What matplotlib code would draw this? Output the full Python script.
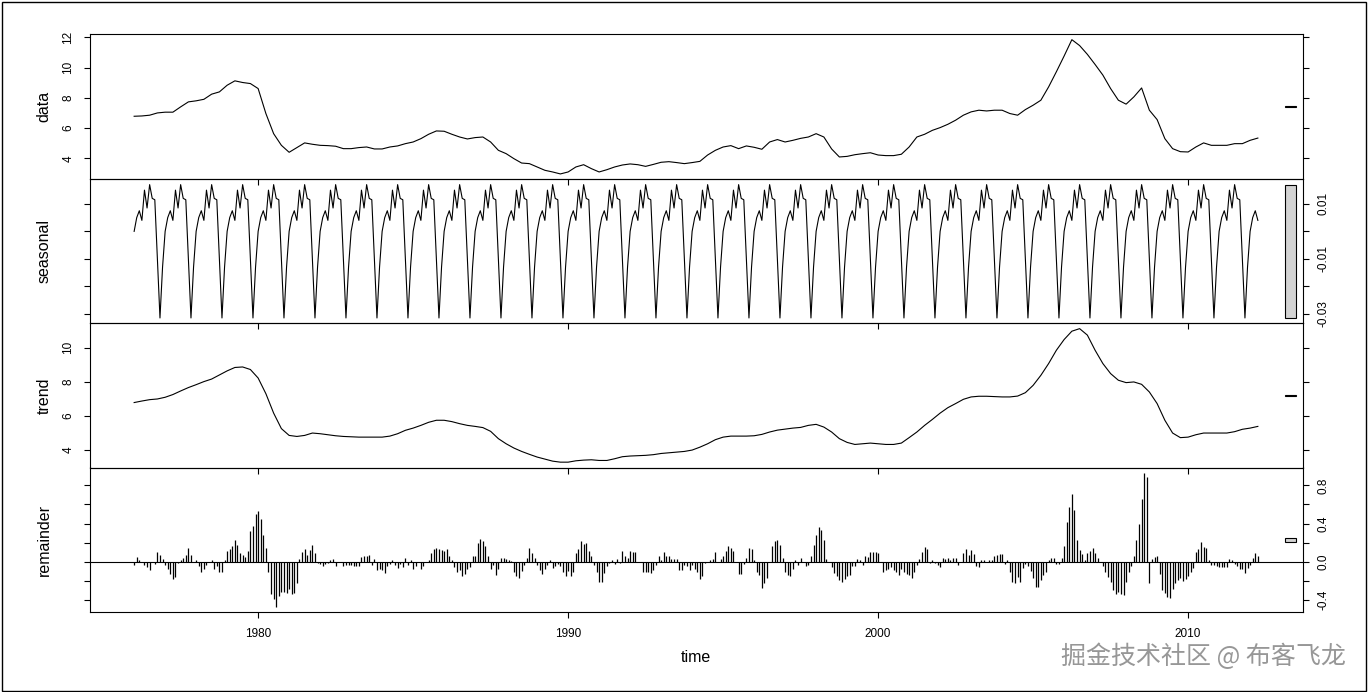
import numpy as np
import matplotlib.pyplot as plt
from matplotlib.patches import Rectangle

plt.rcParams['font.family'] = ['Liberation Sans', 'DejaVu Sans']

# ---- data ----
start_year = 1976

# observed series, read every quarter (1976.00, 1976.25, ...)
data_q = [6.78, 6.80, 6.85, 7.00, 7.05, 7.05, 7.40, 7.73, 7.80, 7.90,
          8.24, 8.39, 8.83, 9.12, 9.01, 8.94, 8.61, 6.96, 5.63, 4.86,
          4.40, 4.71, 5.02, 4.93, 4.86, 4.84, 4.80, 4.64, 4.64, 4.71,
          4.75, 4.62, 4.62, 4.75, 4.82, 4.97, 5.08, 5.30, 5.59, 5.81,
          5.79, 5.59, 5.41, 5.28, 5.37, 5.41, 5.08, 4.53, 4.31, 3.98,
          3.69, 3.65, 3.43, 3.21, 3.10, 2.97, 3.10, 3.43, 3.58, 3.32,
          3.10, 3.25, 3.43, 3.56, 3.63, 3.58, 3.47, 3.60, 3.74, 3.78,
          3.72, 3.65, 3.72, 3.80, 4.22, 4.53, 4.75, 4.84, 4.64, 4.82,
          4.73, 4.60, 5.08, 5.24, 5.08, 5.19, 5.32, 5.41, 5.63, 5.41,
          4.62, 4.09, 4.13, 4.24, 4.31, 4.37, 4.22, 4.18, 4.18, 4.27,
          4.75, 5.41, 5.59, 5.85, 6.03, 6.25, 6.52, 6.85, 7.07, 7.18,
          7.13, 7.18, 7.18, 6.96, 6.85, 7.22, 7.51, 7.84, 8.72, 9.72,
          10.76, 11.84, 11.45, 10.87, 10.20, 9.50, 8.61, 7.84, 7.58, 8.06,
          8.65, 7.18, 6.56, 5.30, 4.64, 4.44, 4.42, 4.75, 5.02, 4.86,
          4.86, 4.86, 4.97, 4.97, 5.19, 5.34]

# trend component, read every quarter
trend_q = [6.78, 6.87, 6.95, 6.99, 7.09, 7.25, 7.46, 7.66, 7.83, 8.01,
           8.16, 8.40, 8.64, 8.84, 8.87, 8.72, 8.22, 7.30, 6.16, 5.25,
           4.85, 4.79, 4.85, 4.99, 4.95, 4.89, 4.83, 4.79, 4.77, 4.75,
           4.75, 4.75, 4.75, 4.81, 4.95, 5.15, 5.28, 5.44, 5.62, 5.74,
           5.74, 5.66, 5.54, 5.44, 5.38, 5.31, 5.09, 4.66, 4.36, 4.11,
           3.91, 3.74, 3.58, 3.46, 3.34, 3.28, 3.28, 3.36, 3.40, 3.42,
           3.38, 3.38, 3.48, 3.60, 3.64, 3.66, 3.68, 3.72, 3.79, 3.83,
           3.87, 3.91, 3.99, 4.16, 4.36, 4.60, 4.75, 4.81, 4.81, 4.81,
           4.83, 4.91, 5.05, 5.16, 5.22, 5.28, 5.32, 5.44, 5.50, 5.34,
           5.05, 4.66, 4.44, 4.32, 4.36, 4.40, 4.36, 4.32, 4.32, 4.40,
           4.72, 5.05, 5.44, 5.79, 6.16, 6.48, 6.72, 6.97, 7.11, 7.15,
           7.15, 7.13, 7.11, 7.11, 7.16, 7.36, 7.79, 8.38, 9.07, 9.85,
           10.48, 10.97, 11.12, 10.74, 9.85, 9.07, 8.48, 8.09, 7.95, 7.99,
           7.85, 7.40, 6.72, 5.74, 4.99, 4.72, 4.75, 4.89, 4.99, 4.99,
           4.99, 4.99, 5.07, 5.21, 5.28, 5.38]

# one cycle of the (periodic) seasonal component, from the first month on
seasonal_cycle = [0.0, 0.005, 0.0075, 0.004, 0.015, 0.0085,
                  0.017, 0.012, 0.0115, -0.010, -0.0315, -0.013]

# remainder, monthly, one row per year
remainder = np.array([
    -0.03, 0.05, 0.02, 0.0, -0.035, -0.055, -0.087, 0.0, -0.025, 0.10, 0.075, 0.03,
    -0.03, -0.07, -0.125, -0.18, -0.16, -0.01, 0.017, 0.045, 0.075, 0.15, 0.075, 0.0,
    0.025, -0.045, -0.11, -0.07, -0.03, 0.0, 0.025, -0.07, -0.045, -0.11, -0.11, 0.015,
    0.11, 0.14, 0.17, 0.23, 0.18, 0.09, 0.075, 0.05, 0.115, 0.32, 0.37, 0.50,
    0.535, 0.45, 0.28, 0.145, -0.11, -0.34, -0.39, -0.47, -0.36, -0.31, -0.31, -0.32,
    -0.28, -0.34, -0.32, -0.225, 0.035, 0.10, 0.14, 0.075, 0.12, 0.18, 0.095, -0.01,
    -0.02, -0.045, -0.02, -0.01, 0.025, 0.035, -0.045, 0.0, 0.0, -0.045, -0.035, -0.035,
    -0.035, -0.045, -0.045, -0.045, 0.05, 0.065, 0.065, 0.075, -0.03, 0.035, -0.08, -0.07,
    -0.087, -0.12, -0.045, -0.025, 0.015, -0.03, -0.065, -0.02, -0.055, 0.04, -0.03, 0.025,
    -0.07, -0.04, 0.0, -0.07, -0.045, 0.0, 0.025, 0.09, 0.14, 0.15, 0.13, 0.12,
    0.11, 0.14, 0.065, 0.015, -0.055, -0.11, -0.08, -0.15, -0.125, -0.07, -0.055, 0.065,
    0.065, 0.20, 0.24, 0.215, 0.17, 0.065, -0.07, -0.03, -0.14, -0.07, 0.04, 0.04,
    0.03, 0.017, 0.007, -0.105, -0.15, -0.167, -0.09, -0.03, 0.04, 0.145, 0.095, 0.04,
    -0.03, -0.08, -0.125, -0.07, -0.03, 0.017, -0.06, -0.04, -0.017, -0.04, -0.10, -0.15,
    -0.09, -0.15, -0.10, 0.09, 0.13, 0.22, 0.19, 0.20, 0.11, 0.065, -0.03, -0.11,
    -0.21, -0.21, -0.115, -0.045, -0.01, 0.025, -0.025, 0.03, -0.01, 0.11, 0.065, 0.04,
    0.11, 0.10, 0.10, 0.0, 0.0, -0.10, -0.11, -0.11, -0.12, -0.08, -0.03, 0.065,
    0.025, 0.10, 0.065, 0.065, 0.03, 0.03, 0.03, -0.08, -0.08, -0.03, -0.045, -0.08,
    -0.03, -0.07, -0.105, -0.175, -0.15, -0.01, 0.0, 0.025, 0.035, 0.10, 0.0, 0.035,
    0.06, 0.11, 0.17, 0.145, 0.11, 0.0, -0.125, -0.125, -0.025, 0.04, 0.145, 0.14,
    0.025, -0.11, -0.14, -0.27, -0.22, -0.167, 0.0, 0.17, 0.22, 0.23, 0.18, 0.04,
    -0.11, -0.14, -0.15, -0.07, 0.015, -0.03, 0.04, 0.0, -0.045, -0.03, 0.065, 0.18,
    0.285, 0.36, 0.33, 0.23, 0.035, 0.0, -0.055, -0.115, -0.15, -0.185, -0.21, -0.18,
    -0.15, -0.14, -0.045, -0.045, 0.035, 0.015, -0.03, 0.065, 0.05, 0.10, 0.10, 0.10,
    0.09, 0.0, -0.10, -0.08, -0.07, -0.055, -0.08, -0.11, -0.14, -0.07, -0.11, -0.125,
    -0.14, -0.167, -0.10, -0.03, 0.035, 0.10, 0.155, 0.13, -0.01, 0.015, -0.01, -0.03,
    -0.055, 0.04, 0.03, 0.04, 0.017, 0.04, 0.04, -0.03, 0.0, 0.09, 0.13, 0.075,
    0.12, 0.085, -0.045, -0.055, 0.015, 0.025, 0.0, 0.015, 0.015, 0.065, 0.075, 0.085,
    0.085, -0.017, 0.015, -0.10, -0.21, -0.22, -0.16, -0.21, -0.06, -0.02, -0.04, -0.09,
    -0.167, -0.26, -0.26, -0.185, -0.14, -0.11, 0.025, 0.04, 0.04, -0.02, -0.02, 0.04,
    0.17, 0.42, 0.57, 0.71, 0.545, 0.23, 0.12, 0.087, 0.025, 0.094, 0.11, 0.15,
    0.09, 0.04, 0.0, -0.045, -0.11, -0.16, -0.21, -0.295, -0.33, -0.31, -0.34, -0.345,
    -0.21, -0.10, -0.045, 0.06, 0.23, 0.40, 0.66, 0.93, 0.89, -0.22, 0.03, 0.05,
    0.065, -0.13, -0.295, -0.32, -0.37, -0.375, -0.28, -0.22, -0.185, -0.167, -0.20, -0.175,
    -0.15, -0.11, -0.06, 0.10, 0.14, 0.21, 0.155, 0.145, 0.025, -0.03, -0.035, -0.045,
    -0.055, -0.055, -0.055, -0.055, 0.03, 0.025, -0.017, -0.045, -0.07, -0.07, -0.115, -0.06,
    -0.03, 0.04, 0.095, 0.065,
])

panel_names = ['data', 'seasonal', 'trend', 'remainder']
year_ticks = [1980, 1990, 2000, 2010]

# y ticks and labels per panel (R drops every other label where they crowd)
y_ticks = [[4, 6, 8, 10, 12],
           [-0.03, -0.02, -0.01, 0.0, 0.01],
           [4, 6, 8, 10],
           [-0.4, -0.2, 0.0, 0.2, 0.4, 0.6, 0.8]]
y_labels = [['4', '6', '8', '10', '12'],
            ['-0.03', '', '-0.01', '', '0.01'],
            ['4', '6', '8', '10'],
            ['-0.4', '', '0.0', '', '0.4', '', '0.8']]

# ---- build the series ----
months = start_year + np.arange(len(remainder)) / 12
quarters = start_year + np.arange(len(data_q)) / 4
seasonal = np.tile(seasonal_cycle, len(remainder) // 12 + 1)[:len(remainder)]
series = [np.array(data_q), seasonal, np.array(trend_q), remainder]
xs = [quarters, months, quarters, months]

# ---- layout (pixel edges of the R panels) ----
W_PX, H_PX = 1368, 692
left_px, right_px = 89.5, 1302.5
edges_px = [34.3, 179.3, 323.3, 467.5, 612.3]

fig = plt.figure(figsize=(W_PX / 100, H_PX / 100), dpi=100)

# same data length for every range bar, like plot.stl
bar_len = min(np.ptp(s) for s in series)

for i, name in enumerate(panel_names):
    top, bot = edges_px[i], edges_px[i + 1]
    ax = fig.add_axes([left_px / W_PX, 1 - bot / H_PX,
                       (right_px - left_px) / W_PX, (bot - top) / H_PX])
    ax.set_facecolor('none')
    y = series[i]

    if name == 'remainder':
        ax.vlines(xs[i], 0, y, color='black', lw=0.9)
        ax.axhline(0, color='black', lw=0.8)
    else:
        ax.plot(xs[i], y, color='black', lw=0.8)

    lo, hi = y.min(), y.max()
    pad = 0.04 * (hi - lo)
    ax.set_ylim(lo - pad, hi + pad)
    ax.set_xlim(1974.56, 2013.69)

    # range bar on the right
    mid = (lo + hi) / 2
    ax.add_patch(Rectangle((2013.11, mid - bar_len / 2), 0.36, bar_len,
                           facecolor='#d3d3d3', edgecolor='black', lw=0.8))

    right_side = (i % 2 == 1)
    ax.set_xticks(year_ticks)
    if i == len(panel_names) - 1:
        ax.set_xticklabels([str(t) for t in year_ticks])
    else:
        ax.set_xticklabels([])
    ax.set_yticks(y_ticks[i])
    ax.set_yticklabels(y_labels[i])
    ax.tick_params(axis='both', direction='out', length=4, width=0.8,
                   pad=7, labelsize=8.5, colors='black')
    ax.tick_params(axis='y', left=True, right=True,
                   labelleft=not right_side, labelright=right_side)
    for lab in ax.get_yticklabels():
        lab.set_rotation(90)
        lab.set_va('center')
    for sp in ax.spines.values():
        sp.set_linewidth(0.8)

    fig.text(44 / W_PX, 1 - (top + bot) / 2 / H_PX, name, rotation=90,
             fontsize=11.5, ha='center', va='center')

fig.text((left_px + right_px) / 2 / W_PX, 1 - 657 / H_PX, 'time',
         fontsize=11.5, ha='center', va='center')

# watermark
fig.text(1346 / W_PX, 1 - 657 / H_PX, '掘金技术社区 @ 布客飞龙',
         fontsize=18, color='#979797', ha='right', va='center',
         family=['Noto Sans CJK SC', 'DejaVu Sans'])

# outer frame
fig.add_artist(Rectangle((1.5 / W_PX, 1.5 / H_PX), 1364 / W_PX, 689 / H_PX,
                         transform=fig.transFigure, fill=False,
                         edgecolor='black', lw=1))

fig.savefig('out.png', dpi=100)
